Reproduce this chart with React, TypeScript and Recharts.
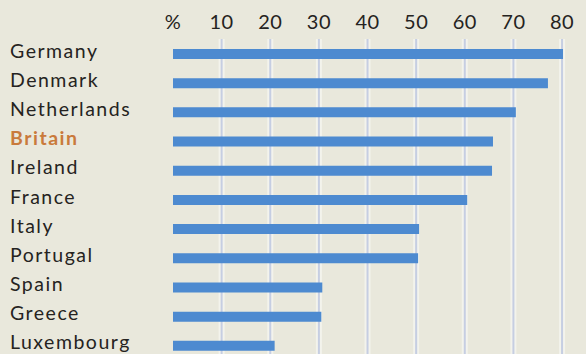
import { BarChart, Bar, XAxis, YAxis, CartesianGrid } from 'recharts';

const countries = [
  'Germany',
  'Denmark',
  'Netherlands',
  'Britain',
  'Ireland',
  'France',
  'Italy',
  'Portugal',
  'Spain',
  'Greece',
  'Luxembourg',
];
const shares = [80.2, 77.1, 70.5, 65.8, 65.6, 60.5, 50.6, 50.4, 30.7, 30.5, 20.9];
const xTicks = [0, 10, 20, 30, 40, 50, 60, 70, 80];
const gridValues = [10, 20, 30, 40, 50, 60, 70, 80];
const highlight = 'Britain';

const data = countries.map((country, i) => ({ country, share: shares[i] }));

const FONT = 'Lato, "Open Sans", sans-serif';

function CountryTick(props: any) {
  const { y, payload } = props;
  const isHighlight = payload.value === highlight;
  return (
    <text
      x={10}
      y={y}
      dy={4}
      textAnchor="start"
      fontFamily={FONT}
      fontSize={19.5}
      letterSpacing={1.5}
      fontWeight={isHighlight ? 700 : 400}
      fill={isHighlight ? '#c97a3b' : '#252321'}
    >
      {payload.value}
    </text>
  );
}

function PercentTick(props: any) {
  const { x, payload } = props;
  return (
    <text
      x={x}
      y={29}
      textAnchor="middle"
      fontFamily={FONT}
      fontSize={20}
      letterSpacing={0.5}
      fill="#252321"
    >
      {payload.value === 0 ? '%' : payload.value}
    </text>
  );
}

export default function App() {
  return (
    <div
      style={{
        position: 'absolute',
        top: 0,
        left: 0,
        width: 586,
        height: 354,
        overflow: 'hidden',
        background: '#e9e8dc',
      }}
    >
      <BarChart
        width={586}
        height={360}
        data={data}
        layout="vertical"
        margin={{ top: 0, right: 4.5, left: 0, bottom: 0 }}
      >
        {/* soft pale band behind each vertical rule */}
        <CartesianGrid
          horizontal={false}
          verticalValues={gridValues}
          stroke="#f3f3ec"
          strokeWidth={6}
        />
        <CartesianGrid
          horizontal={false}
          verticalValues={gridValues}
          stroke="#c6cee2"
          strokeWidth={2}
        />
        <XAxis
          type="number"
          orientation="top"
          domain={[0, 84]}
          ticks={xTicks}
          height={39}
          axisLine={false}
          tickLine={false}
          tick={<PercentTick />}
          interval={0}
        />
        <YAxis
          type="category"
          dataKey="country"
          width={173}
          axisLine={false}
          tickLine={false}
          tick={<CountryTick />}
          interval={0}
        />
        <Bar dataKey="share" fill="#4d8ad0" barSize={10} isAnimationActive={false} />
      </BarChart>
    </div>
  );
}
